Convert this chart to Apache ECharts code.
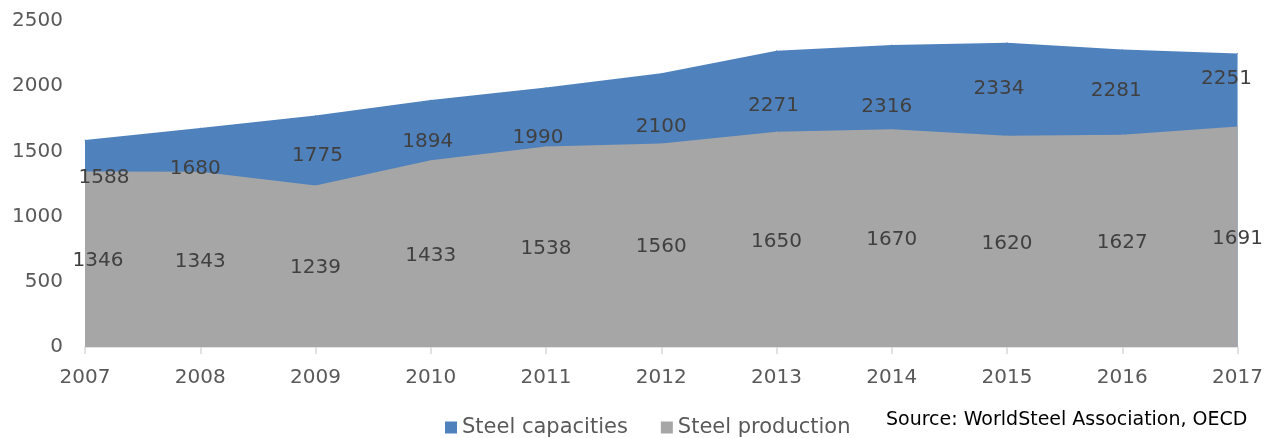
<!DOCTYPE html>
<html>
<head>
<meta charset="utf-8">
<script src="https://cdn.jsdelivr.net/npm/echarts@6/dist/echarts.min.js"></script>
<style>
  html, body { margin: 0; padding: 0; background: #fff; }
  #chart { width: 1266px; height: 438px; }
</style>
</head>
<body>
<div id="chart"></div>
<script>
const years = ['2007', '2008', '2009', '2010', '2011', '2012', '2013', '2014', '2015', '2016', '2017'];
const capacities = [1588, 1680, 1775, 1894, 1990, 2100, 2271, 2316, 2334, 2281, 2251];
const production = [1346, 1343, 1239, 1433, 1538, 1560, 1650, 1670, 1620, 1627, 1691];
const yTicks = [0, 500, 1000, 1500, 2000, 2500];

// label nudges (px) to follow where the original placed them
const capLabelOffsets = [[19, 38], [-5, 41], [2, 40], [-3, 42], [-8, 50], [0, 54], [-3, 55], [-5, 62], [-8, 46], [-6, 41], [-11, 25]];
const prodLabelShiftX = [13, 0, 0, 0, 0, 0, 0, 0, 0, 0, 0];

const FONT = 'DejaVu Sans, Verdana, sans-serif';
const BLUE = '#4f81bd';
const GREY = '#a6a6a6';

const chart = echarts.init(document.getElementById('chart'), null, { renderer: 'canvas' });

function areaSeries(name, values, color, offsets) {
  return {
    name,
    type: 'line',
    symbol: 'circle',
    symbolSize: 1,
    itemStyle: { color },
    lineStyle: { width: 0 },
    areaStyle: { color, opacity: 1 },
    label: {
      show: true,
      position: 'inside',
      color: '#404040',
      fontFamily: FONT,
      fontSize: 20
    },
    data: values.map((v, i) => ({ value: v, label: { offset: offsets[i] } }))
  };
}

const option = {
  animation: false,
  color: [BLUE, GREY],
  grid: { left: 85, right: 27, top: 21, bottom: 91 },
  legend: {
    left: 440,
    top: 412,
    icon: 'rect',
    itemWidth: 12,
    itemHeight: 12,
    itemGap: 33,
    textStyle: { color: '#595959', fontFamily: FONT, fontSize: 21 },
    data: ['Steel capacities', 'Steel production']
  },
  xAxis: {
    type: 'category',
    boundaryGap: false,
    data: years,
    axisLine: { lineStyle: { color: '#d9d9d9', width: 1.5 } },
    axisTick: { show: true, length: 7, lineStyle: { color: '#d9d9d9', width: 1.5 } },
    axisLabel: { color: '#595959', fontFamily: FONT, fontSize: 20, margin: 21 }
  },
  yAxis: {
    type: 'value',
    min: yTicks[0],
    max: yTicks[yTicks.length - 1],
    interval: yTicks[1] - yTicks[0],
    axisLine: { show: false },
    axisTick: { show: false },
    splitLine: { show: false },
    axisLabel: {
      color: '#595959',
      fontFamily: FONT,
      fontSize: 20,
      margin: 22,
      formatter: (v) => String(v)
    }
  },
  graphic: [{
    type: 'text',
    left: 886,
    top: 411,
    style: {
      text: 'Source: WorldSteel Association, OECD',
      fill: '#000',
      font: '19px "DejaVu Sans", sans-serif'
    }
  }],
  series: [
    areaSeries('Steel capacities', capacities, BLUE, capLabelOffsets),
    areaSeries('Steel production', production, GREY, production.map((v, i) => [prodLabelShiftX[i], 0]))
  ]
};

chart.setOption(option);

// production labels sit halfway down their area, as in the original
const toY = (v) => chart.convertToPixel({ yAxisIndex: 0 }, v);
const prodOffsets = production.map((v, i) => [prodLabelShiftX[i], toY(v / 2) - toY(v) + 2]);
chart.setOption({
  series: [{}, { data: production.map((v, i) => ({ value: v, label: { offset: prodOffsets[i] } })) }]
});
</script>
</body>
</html>
